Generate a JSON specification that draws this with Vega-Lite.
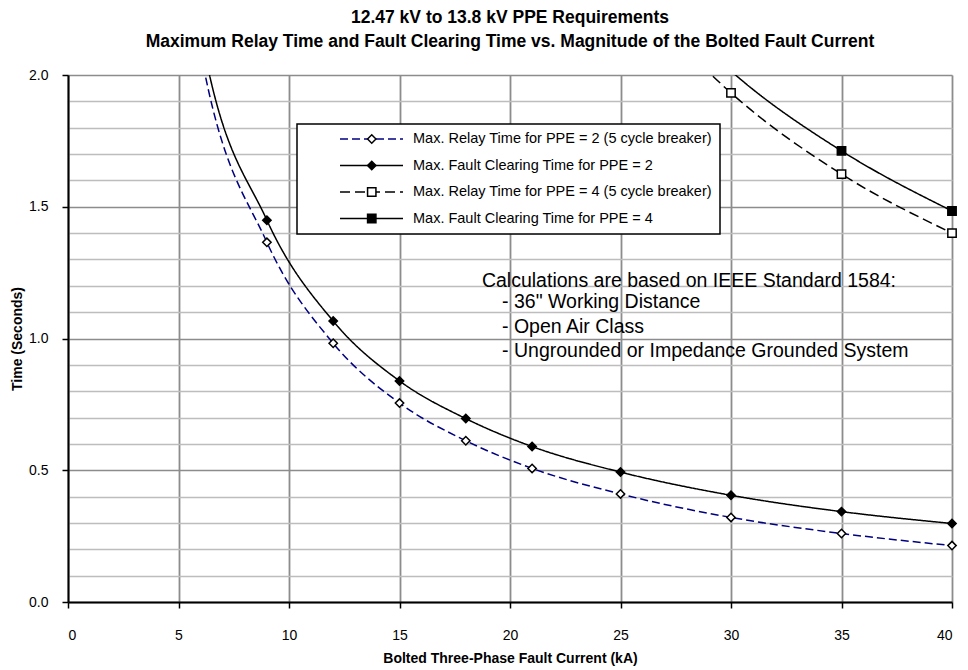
{
  "$schema": "https://vega.github.io/schema/vega-lite/v6.json",
  "width": 884,
  "height": 527,
  "autosize": {"type": "none"},
  "padding": {"left": 68, "top": 75, "right": 16, "bottom": 68},
  "background": "white",
  "title": {
    "text": ["12.47 kV to 13.8 kV PPE Requirements", "Maximum Relay Time and Fault Clearing Time vs. Magnitude of the  Bolted Fault Current"],
    "fontSize": 17.5,
    "font": "Liberation Sans",
    "fontWeight": "bold",
    "lineHeight": 24,
    "anchor": "middle",
    "frame": "group",
    "baseline": "alphabetic",
    "offset": 4,
    "color": "black"
  },
  "config": {
    "view": {"stroke": null},
    "font": "Liberation Sans",
    "axis": {
      "domainColor": "black",
      "domainWidth": 2,
      "tickColor": "black",
      "tickWidth": 1.5,
      "tickSize": 6,
      "labelFont": "Liberation Sans",
      "labelFontSize": 14,
      "labelColor": "black",
      "titleFont": "Liberation Sans",
      "titleFontSize": 14,
      "titleFontWeight": "bold",
      "titleColor": "black",
      "labelOverlap": false
    }
  },
  "datasets": {
    "curves": [
      {"series": "Max. Relay Time for PPE = 2 (5 cycle breaker)", "kA": 5, "t": 2.62},
      {"series": "Max. Relay Time for PPE = 2 (5 cycle breaker)", "kA": 6, "t": 2.09},
      {"series": "Max. Relay Time for PPE = 2 (5 cycle breaker)", "kA": 9, "t": 1.365},
      {"series": "Max. Relay Time for PPE = 2 (5 cycle breaker)", "kA": 12, "t": 0.982},
      {"series": "Max. Relay Time for PPE = 2 (5 cycle breaker)", "kA": 15, "t": 0.755},
      {"series": "Max. Relay Time for PPE = 2 (5 cycle breaker)", "kA": 18, "t": 0.612},
      {"series": "Max. Relay Time for PPE = 2 (5 cycle breaker)", "kA": 21, "t": 0.507},
      {"series": "Max. Relay Time for PPE = 2 (5 cycle breaker)", "kA": 25, "t": 0.41},
      {"series": "Max. Relay Time for PPE = 2 (5 cycle breaker)", "kA": 30, "t": 0.321},
      {"series": "Max. Relay Time for PPE = 2 (5 cycle breaker)", "kA": 35, "t": 0.26},
      {"series": "Max. Relay Time for PPE = 2 (5 cycle breaker)", "kA": 40, "t": 0.214},
      {"series": "Max. Fault Clearing Time for PPE = 2", "kA": 5, "t": 2.72},
      {"series": "Max. Fault Clearing Time for PPE = 2", "kA": 6, "t": 2.17},
      {"series": "Max. Fault Clearing Time for PPE = 2", "kA": 9, "t": 1.449},
      {"series": "Max. Fault Clearing Time for PPE = 2", "kA": 12, "t": 1.066},
      {"series": "Max. Fault Clearing Time for PPE = 2", "kA": 15, "t": 0.839},
      {"series": "Max. Fault Clearing Time for PPE = 2", "kA": 18, "t": 0.696},
      {"series": "Max. Fault Clearing Time for PPE = 2", "kA": 21, "t": 0.59},
      {"series": "Max. Fault Clearing Time for PPE = 2", "kA": 25, "t": 0.493},
      {"series": "Max. Fault Clearing Time for PPE = 2", "kA": 30, "t": 0.405},
      {"series": "Max. Fault Clearing Time for PPE = 2", "kA": 35, "t": 0.343},
      {"series": "Max. Fault Clearing Time for PPE = 2", "kA": 40, "t": 0.298},
      {"series": "Max. Relay Time for PPE = 4 (5 cycle breaker)", "kA": 25, "t": 2.37},
      {"series": "Max. Relay Time for PPE = 4 (5 cycle breaker)", "kA": 30, "t": 1.932},
      {"series": "Max. Relay Time for PPE = 4 (5 cycle breaker)", "kA": 35, "t": 1.624},
      {"series": "Max. Relay Time for PPE = 4 (5 cycle breaker)", "kA": 40, "t": 1.4},
      {"series": "Max. Fault Clearing Time for PPE = 4", "kA": 25, "t": 2.45},
      {"series": "Max. Fault Clearing Time for PPE = 4", "kA": 30, "t": 2.015},
      {"series": "Max. Fault Clearing Time for PPE = 4", "kA": 35, "t": 1.712},
      {"series": "Max. Fault Clearing Time for PPE = 4", "kA": 40, "t": 1.484}
    ]
  },
  "layer": [
    {
      "data": {"name": "curves"},
      "mark": {"type": "line", "interpolate": "monotone", "strokeWidth": 1.5, "clip": true},
      "encoding": {
        "x": {
          "field": "kA", "type": "quantitative",
          "scale": {"domain": [0, 40], "nice": false, "zero": true},
          "axis": {
            "values": [0, 5, 10, 15, 20, 25, 30, 35, 40],
            "tickCount": 9,
            "title": "Bolted Three-Phase Fault Current (kA)",
            "grid": true, "gridColor": "#8c8c8c", "gridWidth": 1.8,
            "labelPadding": 20, "titlePadding": 9
          }
        },
        "y": {
          "field": "t", "type": "quantitative",
          "scale": {"domain": [0, 2], "nice": false},
          "axis": {
            "values": [0, 0.1, 0.2, 0.3, 0.4, 0.5, 0.6, 0.7, 0.8, 0.9, 1, 1.1, 1.2, 1.3, 1.4, 1.5, 1.6, 1.7, 1.8, 1.9, 2],
            "tickCount": 21,
            "labelExpr": "abs(datum.value*2 - round(datum.value*2)) < 0.001 ? format(datum.value, '.1f') : ''",
            "tickOpacity": {"condition": {"test": "abs(datum.value*2 - round(datum.value*2)) < 0.001", "value": 1}, "value": 0},
            "gridColor": {"condition": {"test": "abs(datum.value*2 - round(datum.value*2)) < 0.001", "value": "#8c8c8c"}, "value": "#bdbdbd"},
            "grid": true, "gridWidth": 1.6,
            "title": "Time (Seconds)",
            "labelPadding": 14, "titlePadding": 4
          }
        },
        "color": {
          "field": "series", "type": "nominal",
          "scale": {
            "domain": ["Max. Relay Time for PPE = 2 (5 cycle breaker)", "Max. Fault Clearing Time for PPE = 2", "Max. Relay Time for PPE = 4 (5 cycle breaker)", "Max. Fault Clearing Time for PPE = 4"],
            "range": ["#000080", "black", "black", "black"]
          },
          "legend": {
            "orient": "none", "legendX": 229, "legendY": 49, "title": null,
            "direction": "vertical",
            "fillColor": "white", "strokeColor": "black", "padding": 8,
            "symbolType": "stroke", "symbolSize": 3969, "symbolStrokeWidth": 1.5,
            "symbolOffset": 34, "labelOffset": 9,
            "clipHeight": 14, "rowPadding": 11.5,
            "labelFontSize": 14.5, "labelFont": "Liberation Sans", "labelColor": "black",
            "labelLimit": 600, "zindex": 1,
            "encode": {"legend": {"update": {"strokeWidth": {"value": 1.5}}}}
          }
        },
        "strokeDash": {
          "field": "series", "type": "nominal",
          "scale": {
            "domain": ["Max. Relay Time for PPE = 2 (5 cycle breaker)", "Max. Fault Clearing Time for PPE = 2", "Max. Relay Time for PPE = 4 (5 cycle breaker)", "Max. Fault Clearing Time for PPE = 4"],
            "range": [[8, 4], [1, 0], [10, 5], [1, 0]]
          },
          "legend": null
        }
      }
    },
    {
      "data": {"name": "curves"},
      "transform": [{"filter": "datum.t <= 2"}],
      "mark": {"type": "point", "strokeWidth": 1.5, "opacity": 1, "size": 70},
      "encoding": {
        "x": {"field": "kA", "type": "quantitative"},
        "y": {"field": "t", "type": "quantitative"},
        "fill": {
          "field": "series", "type": "nominal",
          "scale": {
            "domain": ["Max. Fault Clearing Time for PPE = 4", "Max. Relay Time for PPE = 4 (5 cycle breaker)", "Max. Fault Clearing Time for PPE = 2", "Max. Relay Time for PPE = 2 (5 cycle breaker)"],
            "range": ["black", "white", "black", "white"]
          },
          "legend": {
            "orient": "none", "legendX": 229, "legendY": 49, "title": null,
            "direction": "vertical",
            "values": ["Max. Relay Time for PPE = 2 (5 cycle breaker)", "Max. Fault Clearing Time for PPE = 2", "Max. Relay Time for PPE = 4 (5 cycle breaker)", "Max. Fault Clearing Time for PPE = 4"],
            "padding": 8,
            "symbolSize": 70, "symbolStrokeWidth": 1.5,
            "symbolOffset": 59.5, "labelOffset": 9,
            "clipHeight": 14, "rowPadding": 11.5,
            "labelFontSize": 14.5, "labelFont": "Liberation Sans", "labelExpr": "''",
            "labelLimit": 600, "zindex": 2
          }
        },
        "stroke": {
          "field": "series", "type": "nominal",
          "scale": {
            "domain": ["Max. Fault Clearing Time for PPE = 4", "Max. Relay Time for PPE = 4 (5 cycle breaker)", "Max. Fault Clearing Time for PPE = 2", "Max. Relay Time for PPE = 2 (5 cycle breaker)"],
            "range": ["black", "black", "black", "black"]
          },
          "legend": {
            "orient": "none", "legendX": 229, "legendY": 49, "title": null,
            "direction": "vertical",
            "values": ["Max. Relay Time for PPE = 2 (5 cycle breaker)", "Max. Fault Clearing Time for PPE = 2", "Max. Relay Time for PPE = 4 (5 cycle breaker)", "Max. Fault Clearing Time for PPE = 4"],
            "padding": 8,
            "symbolSize": 70, "symbolStrokeWidth": 1.5,
            "symbolOffset": 59.5, "labelOffset": 9,
            "clipHeight": 14, "rowPadding": 11.5,
            "labelFontSize": 14.5, "labelFont": "Liberation Sans", "labelExpr": "''",
            "labelLimit": 600, "zindex": 2
          }
        },
        "shape": {
          "field": "series", "type": "nominal",
          "scale": {
            "domain": ["Max. Fault Clearing Time for PPE = 4", "Max. Relay Time for PPE = 4 (5 cycle breaker)", "Max. Fault Clearing Time for PPE = 2", "Max. Relay Time for PPE = 2 (5 cycle breaker)"],
            "range": ["square", "square", "diamond", "diamond"]
          },
          "legend": {
            "orient": "none", "legendX": 229, "legendY": 49, "title": null,
            "direction": "vertical",
            "values": ["Max. Relay Time for PPE = 2 (5 cycle breaker)", "Max. Fault Clearing Time for PPE = 2", "Max. Relay Time for PPE = 4 (5 cycle breaker)", "Max. Fault Clearing Time for PPE = 4"],
            "padding": 8,
            "symbolSize": 70, "symbolStrokeWidth": 1.5,
            "symbolOffset": 59.5, "labelOffset": 9,
            "clipHeight": 14, "rowPadding": 11.5,
            "labelFontSize": 14.5, "labelFont": "Liberation Sans", "labelExpr": "''",
            "labelLimit": 600, "zindex": 2
          }
        }
      }
    },
    {
      "data": {"values": [
        {"x": 18.73, "y": 1.195, "note": "Calculations are based on IEEE Standard 1584:"},
        {"x": 19.64, "y": 1.116, "note": "- 36\" Working Distance"},
        {"x": 19.64, "y": 1.021, "note": "- Open Air Class"},
        {"x": 19.64, "y": 0.93, "note": "- Ungrounded or Impedance Grounded System"}
      ]},
      "mark": {"type": "text", "align": "left", "baseline": "alphabetic", "fontSize": 19.5, "font": "Liberation Sans", "color": "black"},
      "encoding": {
        "x": {"field": "x", "type": "quantitative"},
        "y": {"field": "y", "type": "quantitative"},
        "text": {"field": "note"}
      }
    }
  ]
}
